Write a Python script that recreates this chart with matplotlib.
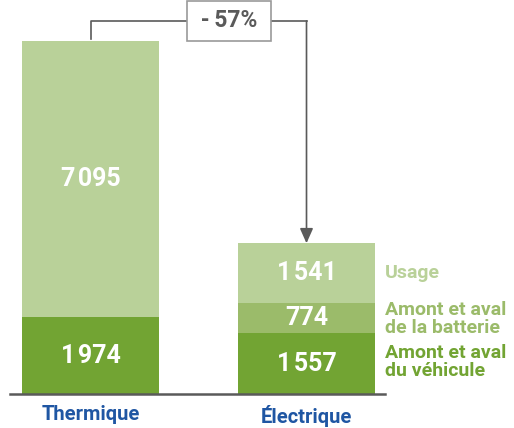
import matplotlib
matplotlib.use("Agg")
import matplotlib.pyplot as plt
import numpy as np

plt.rcParams['font.family'] = ['Roboto', 'DejaVu Sans']

categories = ['Thermique', 'Électrique']
vehicule = [1974, 1557]     # amont et aval du véhicule
batterie = [0, 774]         # amont et aval de la batterie
usage = [7095, 1541]
labels_vehicule = ['1\u200a974', '1\u200a557']
labels_batterie = ['', '774']
labels_usage = ['7\u200a095', '1\u200a541']
legend_labels = ['Usage', 'Amont et aval\nde la batterie', 'Amont et aval\ndu véhicule']
reduction = ' -\u200957% '

c_usage = '#b9d199'
c_batt = '#9bbb6a'
c_veh = '#72a433'
c_blue = '#1f56a3'
c_grey = '#5a5a5a'

fig = plt.figure(figsize=(5.14, 4.28), dpi=100)
# axes from pixel x=10..385, y=0..394 (from top)
ax = fig.add_axes([10/514, (428-394)/428, 375/514, 394/428])

x = np.arange(len(categories))
w = 0.634
veh = np.array(vehicule)
bat = np.array(batterie)
use = np.array(usage)
totals = veh + bat + use

ax.bar(x, veh, w, color=c_veh)
ax.bar(x, bat, w, bottom=veh, color=c_batt)
ax.bar(x, use, w, bottom=veh + bat, color=c_usage)

ymax = totals[0] * 394 / 353
ax.set_ylim(0, ymax)
ax.set_xlim(-0.3727, 1.3634)
for s in ['top', 'right', 'left']:
    ax.spines[s].set_visible(False)
ax.spines['bottom'].set_color(c_grey)
ax.spines['bottom'].set_linewidth(1.8)
ax.set_yticks([])
ax.set_xticks(x)
ax.set_xticklabels(categories, fontsize=14.5, fontweight='bold', color=c_blue)
ax.tick_params(axis='x', length=0, pad=8)

tkw = dict(ha='center', va='center', color='white', fontsize=18, fontweight='bold')
for i in x:
    ax.text(i, veh[i] / 2, labels_vehicule[i], **tkw)
    if bat[i] > 0:
        ax.text(i, veh[i] + bat[i] / 2, labels_batterie[i], **tkw)
    ax.text(i, veh[i] + bat[i] + use[i] / 2, labels_usage[i], **tkw)

# legend labels next to the electric bar
lx = 1 + w / 2 + 0.045
lkw = dict(ha='left', va='center', fontsize=14, fontweight='bold', linespacing=1.0)
ax.text(lx, veh[1] + bat[1] + use[1] / 2, legend_labels[0], color=c_usage, **lkw)
ax.text(lx, veh[1] + bat[1] / 2 - 20, legend_labels[1], color=c_batt, clip_on=False, **lkw)
ax.text(lx, veh[1] / 2 + 40, legend_labels[2], color=c_veh, clip_on=False, **lkw)

# bracket with arrow
by = ymax * (394 - 21) / 394
ax.plot([0, 0, 1], [totals[0] + 60, by, by], color=c_grey, lw=1.2, clip_on=False)
ax.annotate('', xy=(1, totals[1]), xytext=(1, by),
            arrowprops=dict(arrowstyle='-|>,head_length=0.9,head_width=0.4',
                            color=c_grey, lw=1.2, shrinkA=0, shrinkB=0))
ax.text(0.64, by, reduction, ha='center', va='center', fontsize=16.5, fontweight='bold',
        color=c_grey,
        bbox=dict(boxstyle='square,pad=0.35', fc='white', ec='#9a9a9a', lw=1.2))

plt.savefig('out.png', dpi=100, facecolor='white')
